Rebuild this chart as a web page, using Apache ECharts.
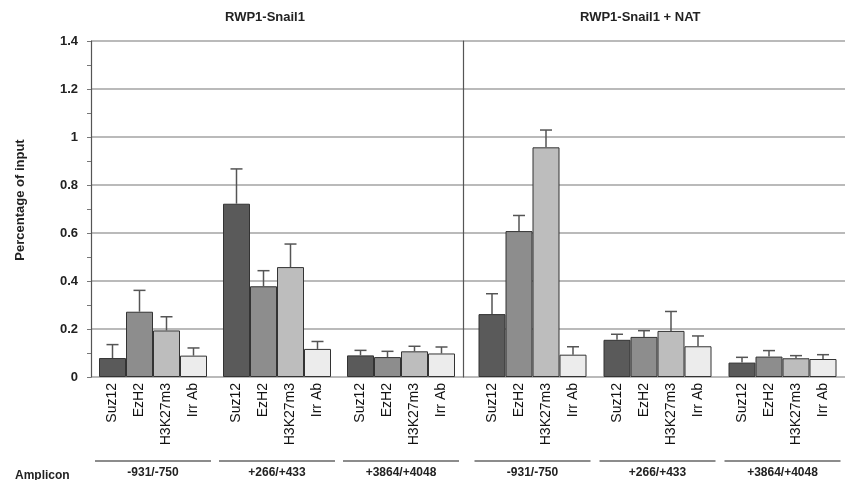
<!DOCTYPE html>
<html>
<head>
<meta charset="utf-8">
<script src="https://cdn.jsdelivr.net/npm/echarts@6/dist/echarts.min.js"></script>
<style>
html,body{margin:0;padding:0;background:#fff;}
#chart{width:845px;height:480px;}
</style>
</head>
<body>
<div id="chart"></div>
<script>
// ---- data ----
var amplicons = ['-931/-750', '+266/+433', '+3864/+4048', '-931/-750', '+266/+433', '+3864/+4048'];
var antibodies = ['Suz12', 'EzH2', 'H3K27m3', 'Irr Ab'];
var suz12   = [0.079, 0.722, 0.090, 0.262, 0.155, 0.060];
var ezh2    = [0.272, 0.378, 0.083, 0.608, 0.167, 0.085];
var h3k27m3 = [0.194, 0.458, 0.107, 0.957, 0.192, 0.078];
var irrAb   = [0.089, 0.117, 0.098, 0.093, 0.128, 0.075];
var suz12Err   = [0.056, 0.145, 0.021, 0.085, 0.023, 0.022];
var ezh2Err    = [0.089, 0.065, 0.024, 0.065, 0.026, 0.025];
var h3k27m3Err = [0.057, 0.096, 0.021, 0.072, 0.081, 0.011];
var irrAbErr   = [0.032, 0.031, 0.027, 0.033, 0.043, 0.018];
var yTicks = [0, 0.2, 0.4, 0.6, 0.8, 1, 1.2, 1.4];
var panelTitles = ['RWP1-Snail1', 'RWP1-Snail1 + NAT'];

// ---- styles ----
var values = [suz12, ezh2, h3k27m3, irrAb];
var errs = [suz12Err, ezh2Err, h3k27m3Err, irrAbErr];
var colors = ['#5a5a5a', '#8d8d8d', '#bdbdbd', '#ececec'];
var BW = 27;
var font = 'Liberation Sans, Arial, sans-serif';
var gridColor = '#a3a3a3';

var chart = echarts.init(document.getElementById('chart'));

function yAxisCfg(gi, showLabels, offset, showLine) {
  return {
    type: 'value', gridIndex: gi, min: 0, max: 1.4, interval: 0.2,
    offset: offset,
    axisLine: {show: showLine, lineStyle: {color: '#555', width: 1.2}},
    axisTick: {show: showLabels, length: 4, lineStyle: {color: '#777'}},
    minorTick: {show: showLabels, splitNumber: 2, length: 4, lineStyle: {color: '#777'}},
    splitLine: {show: true, lineStyle: {color: gridColor, width: 1.5}},
    axisLabel: {show: showLabels, margin: 13, fontFamily: font, fontWeight: 'bold', fontSize: 13, color: '#222',
      formatter: function (v) { return String(Math.round(v * 10) / 10); }},
    name: showLabels ? 'Percentage of input' : '',
    nameLocation: 'middle', nameGap: 64,
    nameTextStyle: {fontFamily: font, fontWeight: 'bold', fontSize: 13, color: '#222', padding: [0, 0, 0, 18]}
  };
}

function xAxisCfg(gi, cats) {
  return {
    type: 'category', gridIndex: gi, data: cats,
    axisLine: {show: false}, axisTick: {show: false},
    axisLabel: {
      show: true, margin: 83, interval: 0,
      formatter: function (v) { return '{l| }\n{t|' + v + '}'; },
      rich: {
        l: {width: 116, height: 2, lineHeight: 2, backgroundColor: '#8c8c8c', fontSize: 2},
        t: {fontFamily: font, fontWeight: 'bold', fontSize: 12, color: '#222', lineHeight: 16, padding: [6, 0, 0, 0]}
      }
    }
  };
}

var series = [];
[0, 1].forEach(function (p) {
  var lo = p * 3;
  antibodies.forEach(function (name, k) {
    series.push({
      type: 'bar', name: name, xAxisIndex: p, yAxisIndex: p,
      data: values[k].slice(lo, lo + 3),
      barWidth: BW, barGap: '0%',
      itemStyle: {color: colors[k], borderColor: '#333', borderWidth: 1},
      label: {show: true, position: 'bottom', distance: 6, rotate: 90, align: 'right', verticalAlign: 'middle',
        formatter: name, fontFamily: font, fontSize: 14, color: '#111'},
      silent: true, z: 2
    });
  });
  antibodies.forEach(function (name, k) {
    var d = [];
    for (var i = 0; i < 3; i++) d.push([i, values[k][lo + i], errs[k][lo + i]]);
    series.push({
      type: 'custom', xAxisIndex: p, yAxisIndex: p, z: 3, silent: true,
      data: d, encode: {x: 0, y: 1},
      renderItem: function (params, api) {
        var c = api.value(0), v = api.value(1), e = api.value(2);
        var cx = api.coord([c, 0])[0] + (k - 1.5) * BW;
        var yb = api.coord([c, v])[1];
        var yt = api.coord([c, v + e])[1];
        var st = {stroke: '#555', lineWidth: 1.5};
        return {type: 'group', children: [
          {type: 'line', shape: {x1: cx, y1: yb, x2: cx, y2: yt}, style: st},
          {type: 'line', shape: {x1: cx - 6, y1: yt, x2: cx + 6, y2: yt}, style: st}
        ]};
      }
    });
  });
});

var option = {
  animation: false,
  backgroundColor: '#fff',
  title: [
    {text: panelTitles[0], left: 220, top: 6, textStyle: {fontFamily: font, fontWeight: 'bold', fontSize: 13, color: '#222'}},
    {text: panelTitles[1], left: 575, top: 6, textStyle: {fontFamily: font, fontWeight: 'bold', fontSize: 13, color: '#222'}},
    {text: 'Amplicon', left: 10, top: 465, textStyle: {fontFamily: font, fontWeight: 'bold', fontSize: 12, color: '#222'}}
  ],
  grid: [
    {left: 91, top: 41, width: 372, height: 336},
    {left: 470, top: 41, width: 375, height: 336},
    {left: 463, top: 41, width: 7, height: 336}
  ],
  xAxis: [
    xAxisCfg(0, amplicons.slice(0, 3)),
    xAxisCfg(1, amplicons.slice(3, 6)),
    {type: 'category', gridIndex: 2, data: [''], show: false}
  ],
  yAxis: [
    yAxisCfg(0, true, 0, true),
    yAxisCfg(1, false, 7, true),
    yAxisCfg(2, false, 0, false)
  ],
  series: series
};
chart.setOption(option);
</script>
</body>
</html>
